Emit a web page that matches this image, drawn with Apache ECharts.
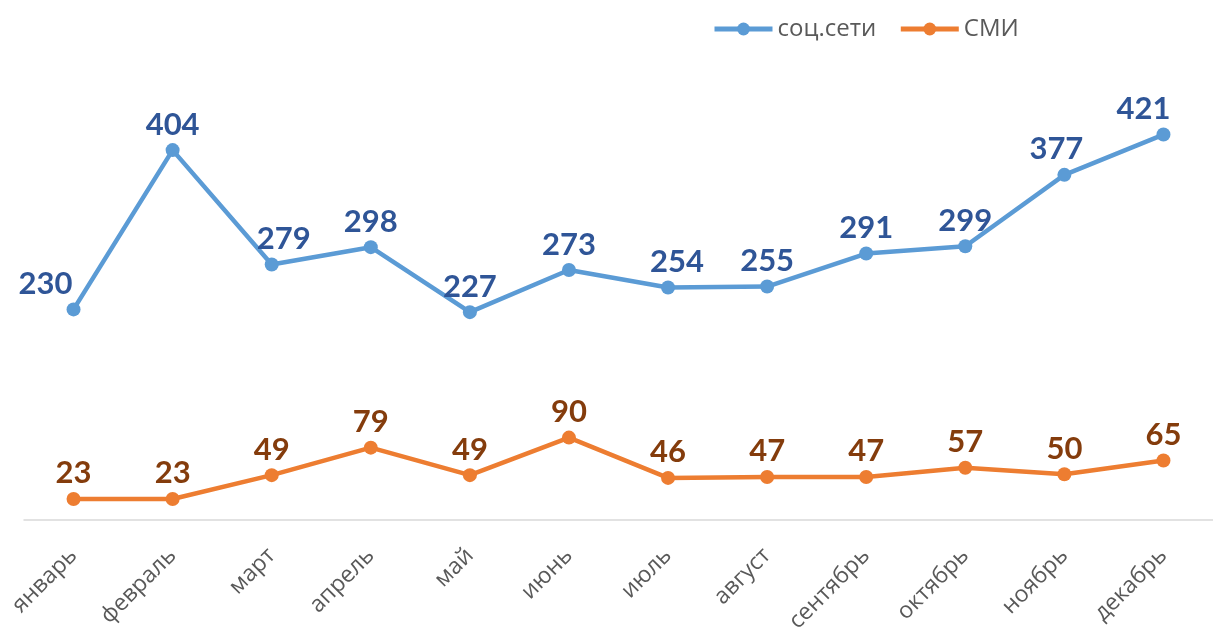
<!DOCTYPE html>
<html>
<head>
<meta charset="utf-8">
<script src="https://cdn.jsdelivr.net/npm/echarts@6/dist/echarts.min.js"></script>
<style>
  html, body { margin: 0; padding: 0; background: #fff; }
  #main { width: 1213px; height: 637px; }
</style>
</head>
<body>
<div id="main"></div>
<script>
// месяцы и значения
var months = ['январь', 'февраль', 'март', 'апрель', 'май', 'июнь', 'июль', 'август', 'сентябрь', 'октябрь', 'ноябрь', 'декабрь'];
var socialValues = [230, 404, 279, 298, 227, 273, 254, 255, 291, 299, 377, 421];
var mediaValues = [23, 23, 49, 79, 49, 90, 46, 47, 47, 57, 50, 65];

var chart = echarts.init(document.getElementById('main'));

var labelFont = 'Lato, "Open Sans", sans-serif';

// сдвиг подписей как в исходнике (excel ставит крайние левее)
function withOffsets(values, offsets) {
  return values.map(function (v, i) {
    if (!offsets[i]) return v;
    return { value: v, label: { offset: offsets[i] } };
  });
}

var option = {
  animation: false,
  legend: {
    top: 12,
    left: 707,
    itemWidth: 58,
    itemHeight: 16,
    itemGap: 22,
    lineStyle: { width: 5 },
    textStyle: {
      fontFamily: '"Open Sans", sans-serif',
      fontSize: 24,
      color: '#595959'
    },
    data: ['соц.сети', 'СМИ']
  },
  grid: {
    left: 24,
    right: -8,
    top: 108,
    bottom: 117
  },
  xAxis: {
    type: 'category',
    data: months,
    boundaryGap: true,
    axisLine: { lineStyle: { color: '#D9D9D9', width: 1.5 } },
    axisTick: { show: false },
    axisLabel: {
      rotate: 45,
      margin: 32,
      interval: 0,
      fontFamily: '"Open Sans", sans-serif',
      fontSize: 23,
      color: '#595959'
    }
  },
  yAxis: {
    type: 'value',
    min: 0,
    max: 450,
    show: false,
    splitLine: { show: false }
  },
  series: [{
    name: 'соц.сети',
    type: 'line',
    data: withOffsets(socialValues, { 0: [-28, 0], 2: [12, 0], 6: [9, 0], 10: [-8, 0], 11: [-20, 0] }),
    symbol: 'circle',
    symbolSize: 14,
    itemStyle: { color: '#5B9BD5' },
    lineStyle: { color: '#5B9BD5', width: 4.5 },
    label: {
      show: true,
      position: 'top',
      distance: 3,
      fontFamily: labelFont,
      fontWeight: 'bold',
      fontSize: 31,
      color: '#2F5597'
    }
  }, {
    name: 'СМИ',
    type: 'line',
    data: mediaValues,
    symbol: 'circle',
    symbolSize: 14,
    itemStyle: { color: '#ED7D31' },
    lineStyle: { color: '#ED7D31', width: 4.5 },
    label: {
      show: true,
      position: 'top',
      distance: 3,
      fontFamily: labelFont,
      fontWeight: 'bold',
      fontSize: 31,
      color: '#843C0C'
    }
  }]
};

chart.setOption(option);
</script>
</body>
</html>
